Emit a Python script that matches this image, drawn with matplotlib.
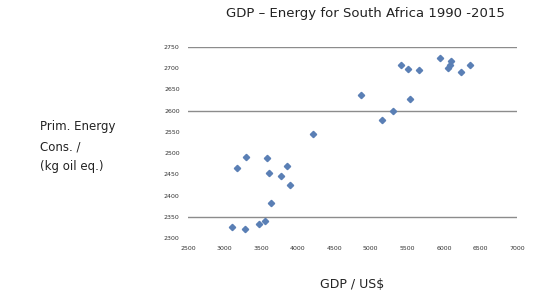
import matplotlib
matplotlib.use("Agg")
import matplotlib.pyplot as plt

# GDP (x) vs primary energy consumption (y)
gdp = [3100, 3280, 3170, 3300, 3470, 3550, 3640, 3580, 3610, 3770, 3860, 3900,
       4210, 4860, 5160, 5300, 5530, 5420, 5510, 5660, 5940, 6060, 6100, 6240,
       6360, 6080]
energy = [2327, 2321, 2464, 2492, 2333, 2341, 2382, 2488, 2454, 2447, 2470, 2425,
          2545, 2636, 2578, 2600, 2628, 2708, 2698, 2696, 2725, 2700, 2716, 2691,
          2708, 2708]

x_ticks = [2500, 3000, 3500, 4000, 4500, 5000, 5500, 6000, 6500, 7000]
y_ticks = [2300, 2350, 2400, 2450, 2500, 2550, 2600, 2650, 2700, 2750]
grid_y = [2350, 2600, 2750]

title = "GDP – Energy for South Africa 1990 -2015"
xlabel = "GDP / US$"
ylabel = "Prim. Energy\nCons. /\n(kg oil eq.)"

fig = plt.figure(figsize=(5.33, 3.02), dpi=100)
ax = fig.add_axes([188/533, 1-238/302, (517-188)/533, (238-47)/302])

for gy in grid_y:
    ax.axhline(gy, color="#8c8c8c", linewidth=1.0, zorder=1)

ax.plot(gdp, energy, linestyle="none", marker="D", markersize=3.2,
        color="#5a7fb5", markeredgecolor="#5a7fb5", zorder=3)

ax.set_xlim(x_ticks[0], x_ticks[-1])
ax.set_ylim(y_ticks[0], y_ticks[-1])
ax.set_xticks(x_ticks)
ax.set_yticks(y_ticks)
ax.set_xticklabels([str(v) for v in x_ticks], fontsize=4.5, color="#333333")
ax.set_yticklabels([str(v) for v in y_ticks], fontsize=4.5, color="#333333")
ax.tick_params(length=0, pad=6)
for s in ax.spines.values():
    s.set_visible(False)

fig.text(365/533, 1-14/302, title, ha="center", va="center", fontsize=9.5, color="#222222")
fig.text(352/533, 1-285/302, xlabel, ha="center", va="center", fontsize=9, color="#222222")
fig.text(40/533, 1-147/302, ylabel, ha="left", va="center", fontsize=8.5,
         color="#222222", linespacing=1.7)

fig.savefig("out.png", dpi=100)
